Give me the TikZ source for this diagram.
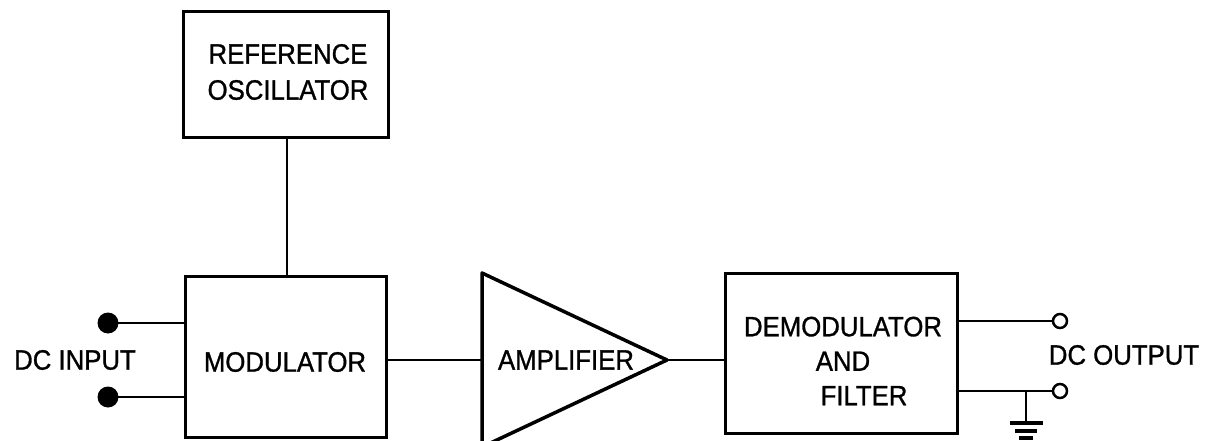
\documentclass[tikz,border=0pt]{standalone}
\usepackage{fontspec}
\usetikzlibrary{calc}
\newfontfamily\lab[FakeStretch=0.92,UprightFeatures={FakeBold=1}]{Liberation Sans}
\begin{document}
\begin{tikzpicture}[x=1pt,y=-1pt,
  blk/.style={draw,line width=3pt,inner sep=0pt,minimum width=#1},
  txt/.style={font=\lab\fontsize{28}{36}\selectfont,align=center,inner sep=0pt},
  wire/.style={line width=2pt},
  gbar/.style={line width=3.5pt},
  term/.style={circle,draw,line width=2.5pt,fill=white,minimum size=14pt,inner sep=0pt},
  dot/.style={circle,fill=black,minimum size=21pt,inner sep=0pt}]
\useasboundingbox (0,0) rectangle (1207,441);
% boxes
\node[blk=205pt,minimum height=126pt] (osc) at (285.5,75) {};
\node[blk=201pt,minimum height=161pt] (mod) at (285.5,356.5) {};
\node[blk=232pt,minimum height=160pt] (dem) at (841,353) {};
% amplifier triangle
\coordinate (ampin) at (482,360);
\coordinate (ampout) at (667,360);
\draw[line width=3.5pt,line join=round] (482,273) -- (ampout) -- (482,447) -- cycle;
% texts
\node[txt] (osctext) at (288,72) {REFERENCE\\OSCILLATOR};
\node[txt] (modtext) at (285,362) {MODULATOR};
\node[txt] (amptext) at (566,360) {AMPLIFIER};
\node[txt,font=\lab\fontsize{28}{34.5}\selectfont] (demtext) at (843,361) {DEMODULATOR\\AND\\\hspace*{42pt}FILTER};
\node[txt] (intext) at (75,360) {DC INPUT};
\node[txt] (outtext) at (1124,355) {DC OUTPUT};
% terminals
\node[dot] (in1) at (108,323) {};
\node[dot] (in2) at (108,397) {};
\node[term] (o1) at (1060,321) {};
\node[term] (o2) at (1060,391) {};
% connectors
\draw[wire] (osc.south -| 287,0) -- (287,0 |- mod.north);
\draw[wire] (in1.center) -- (in1 -| mod.west);
\draw[wire] (in2.center) -- (in2 -| mod.west);
\draw[wire] (mod.east |- ampin) -- (ampin);
\draw[wire] (ampout) -- (ampout -| dem.west);
\draw[wire] (dem.east |- o1) -- (o1.west);
\draw[wire] (dem.east |- o2) -- (o2.west);
% ground
\coordinate (g) at (1026,391);
\draw[wire] (g) -- ++(0,31) coordinate (gb);
\draw[gbar] ($(gb)+(-16,1)$) -- ++(33,0);
\draw[gbar] ($(gb)+(-11,9)$) -- ++(22,0);
\draw[gbar] ($(gb)+(-7,16)$) -- ++(14,0);
\end{tikzpicture}
\end{document}
